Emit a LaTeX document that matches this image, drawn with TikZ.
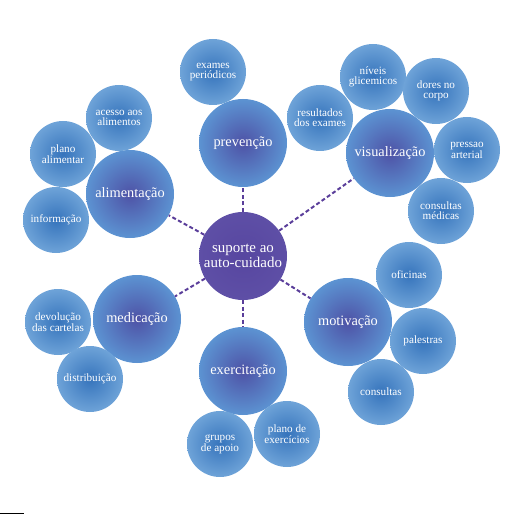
\documentclass[tikz,border=0pt]{standalone}
\usepackage{fontspec}
\setmainfont{Liberation Serif}

\definecolor{hubcol}{HTML}{5746A0}
\definecolor{hubrim}{HTML}{5E4FA6}
\definecolor{topcore}{HTML}{4E52A6}
\definecolor{toprim}{HTML}{5C93D2}
\definecolor{itemcore}{HTML}{3674BC}
\definecolor{itemrim}{HTML}{6EA3D8}
\definecolor{linkcol}{HTML}{5A3E9A}

\begin{document}
\begin{tikzpicture}[x=1bp, y=-1bp,
  every node/.style={circle, inner sep=0pt, align=center, text=white},
  hub/.style={minimum size=88bp, shading=radial, inner color=hubcol, outer color=hubrim,
    font=\fontsize{15}{11}\selectfont},
  topic/.style={minimum size=88bp, shading=radial, inner color=topcore, outer color=toprim,
    font=\fontsize{14.4}{12}\selectfont},
  item/.style={minimum size=66bp, shading=radial, inner color=itemcore, outer color=itemrim,
    font=\fontsize{11.2}{10}\selectfont},
  link/.style={draw=linkcol, line width=2pt, dash pattern=on 4pt off 2.5pt}]

  \useasboundingbox (0, 0) rectangle (530, 514);

  %% ==================== HUB ====================
  \node[hub] (sup) at (243, 256) {suporte ao\\auto-cuidado};

  %% ================= MAIN TOPICS =================
  \node[topic] (prev)  at (243, 143) {prevenção};
  \node[topic] (alim)  at (130, 194) {alimentação};
  \node[topic] (visu)  at (390, 153) {visualização};
  \node[topic] (motiv) at (348, 322) {motivação};
  \node[topic] (exerc) at (243, 371) {exercitação};
  \node[topic] (medic) at (137, 319) {medicação};

  % dashed links from the hub
  \foreach \t in {prev, alim, visu, motiv, exerc, medic}
    \draw[link] (sup) -- (\t);

  %% ================ SATELLITES =================
  % prevenção
  \node[item] (exames) at (213, 72) {exames\\periódicos};

  % alimentação
  \node[item] (acesso) at (119, 118) {acesso aos\\alimentos};
  \node[item] (plano)  at (63, 154)  {plano\\alimentar};
  \node[item] (info)   at (56, 220)  {informação};

  % visualização
  \node[item] (niveis)  at (373, 77)  {níveis\\glicemicos};
  \node[item] (dores)   at (436, 91)  {dores no\\corpo};
  \node[item] (result)  at (320, 118) {resultados\\dos exames};
  \node[item] (pressao) at (467, 150) {pressao\\arterial};
  \node[item] (consmed) at (441, 211) {consultas\\médicas};

  % motivação
  \node[item] (ofic)    at (409, 275) {oficinas};
  \node[item] (palest)  at (423, 341) {palestras};
  \node[item] (consult) at (381, 392) {consultas};

  % exercitação
  \node[item] (planoex) at (287, 434) {plano de\\exercícios};
  \node[item] (grupos)  at (220, 444) {grupos\\de apoio};

  % medicação
  \node[item] (devol)   at (58, 322) {devolução\\das cartelas};
  \node[item] (distrib) at (90, 379) {distribuição};

  % short rule at the foot
  \draw[line width=0.8pt] (0, 513) -- (24, 513);

\end{tikzpicture}
\end{document}
